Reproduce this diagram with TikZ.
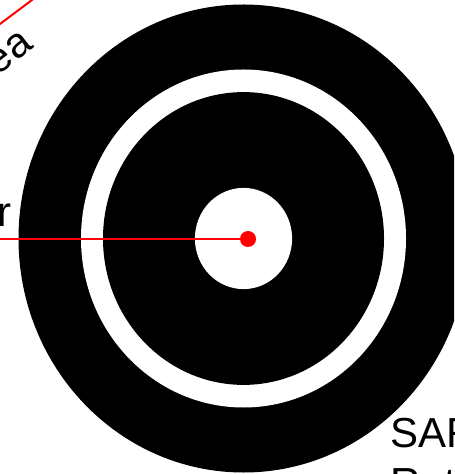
\documentclass[tikz,border=0pt]{standalone}
\usepackage{fontspec}
\setmainfont{Liberation Sans}
\usetikzlibrary{positioning}

\begin{document}
\begin{tikzpicture}[
  x=0.5pt, y=-0.5pt,
  font=\fontsize{21}{25}\selectfont,
  lbl/.style={inner sep=0pt},
  redline/.style={draw=red, line width=1pt},
  dot/.style={circle, fill=red, inner sep=0pt, minimum size=8pt}
]
  \useasboundingbox (0,0) rectangle (454,474);
  \clip (0,0) rectangle (454,474);
  \coordinate (C) at (243.5,238.5);
  % target rings
  \fill[black] (C) ellipse [x radius=112.5pt, y radius=117pt];
  \fill[white] (C) ellipse [x radius=81.25pt, y radius=84.5pt];
  \fill[black] (C) ellipse [x radius=70.25pt, y radius=73.2pt];
  \fill[white] (C) ellipse [x radius=24.3pt, y radius=25.3pt];
  \node[dot] (ctr) at (248,239) {};
  % labels
  \node[lbl, anchor=base east] (rad) at (12,227) {r};
  \node[lbl, rotate=38, anchor=base east] (area) at (35,47) {ea};
  \node[lbl, anchor=base west] (sar) at (390,447) {SAR};
  \node[lbl, anchor=base west, below=25pt of sar.base west, anchor=base west] (rot) {Rot};
  \coordinate (rfree) at (-10,239);
  \coordinate (aA) at (-10,31.5);
  \coordinate (aB) at (44,-9);
  \draw[redline] (rfree) -- (ctr);
  \draw[redline] (aA) -- (aB);
\end{tikzpicture}
\end{document}
